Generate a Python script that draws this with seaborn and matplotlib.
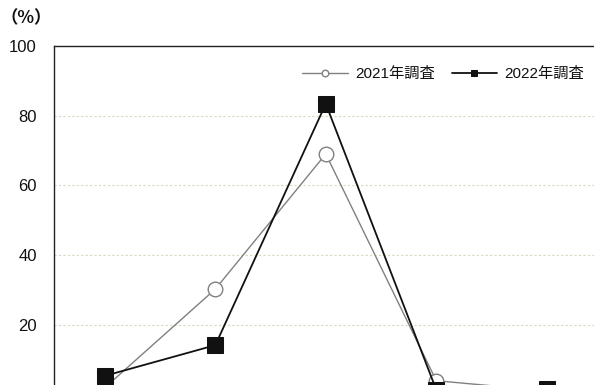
import numpy as np
import pandas as pd
import matplotlib
matplotlib.use('Agg')
import matplotlib.pyplot as plt
import seaborn as sns

# categories (x labels are cropped in the reference, so positions only)
categories = [0, 1, 2, 3, 4]
values_2021 = [1.9, 30.2, 69.0, 3.9, 1.0]
values_2022 = [5.3, 14.1, 83.4, 1.3, 1.4]
series_names = ['2021年調査', '2022年調査']
y_ticks = [20, 40, 60, 80, 100]

sns.set_style('white')
plt.rcParams['font.family'] = ['Liberation Sans', 'Noto Sans CJK JP', 'DejaVu Sans']

df = pd.DataFrame({
    'cat': categories * 2,
    'value': values_2021 + values_2022,
    'series': [series_names[0]] * len(categories) + [series_names[1]] * len(categories),
})

fig = plt.figure(figsize=(5.94, 3.85), dpi=100)
ax = fig.add_axes([54 / 594, (385 - 394.3) / 385, 548 / 594, (394.3 - 46) / 385])

d21 = df[df['series'] == series_names[0]]
d22 = df[df['series'] == series_names[1]]
sns.lineplot(data=d21, x='cat', y='value', ax=ax, color='#808080', linewidth=1.0,
             marker='o', markersize=10.5, markerfacecolor='white', markeredgecolor='#808080',
             markeredgewidth=1.0, label=series_names[0], zorder=3)
sns.lineplot(data=d22, x='cat', y='value', ax=ax, color='#111111', linewidth=1.3,
             marker='s', markersize=11, markerfacecolor='#111111', markeredgecolor='#111111',
             label=series_names[1], zorder=4)

ax.set_xlim(-0.46, 4.5)
ax.set_ylim(0, 100)
ax.set_yticks(y_ticks)
ax.set_yticklabels([str(t) for t in y_ticks], fontsize=12, color='#111111')
ax.set_xticks([])
ax.set_xlabel('')
ax.set_ylabel('')
ax.tick_params(axis='y', length=0, pad=12.5)
for t in y_ticks[:-1]:
    ax.axhline(t, color='#d8d8bf', linestyle=(0, (2, 2)), linewidth=0.8, zorder=1)

for s in ['left', 'top']:
    ax.spines[s].set_color('#222222')
    ax.spines[s].set_linewidth(1.0)
ax.spines['right'].set_visible(False)
ax.spines['bottom'].set_visible(False)

fig.text(1 / 594, 1 - 18 / 385, '（%）', fontsize=12.5, va='center', ha='left', weight='bold',
         family=['Noto Sans CJK JP', 'DejaVu Sans'], color='#111111')

leg = ax.legend(loc='center right', bbox_to_anchor=(584 / 594, 1 - 74 / 385),
                bbox_transform=fig.transFigure, ncol=2, frameon=False, fontsize=11,
                markerscale=0.45, handlelength=3.0, handletextpad=0.45, columnspacing=1.1,
                borderaxespad=0, borderpad=0)
for txt in leg.get_texts():
    txt.set_color('#111111')

fig.savefig('out.png', dpi=100)
